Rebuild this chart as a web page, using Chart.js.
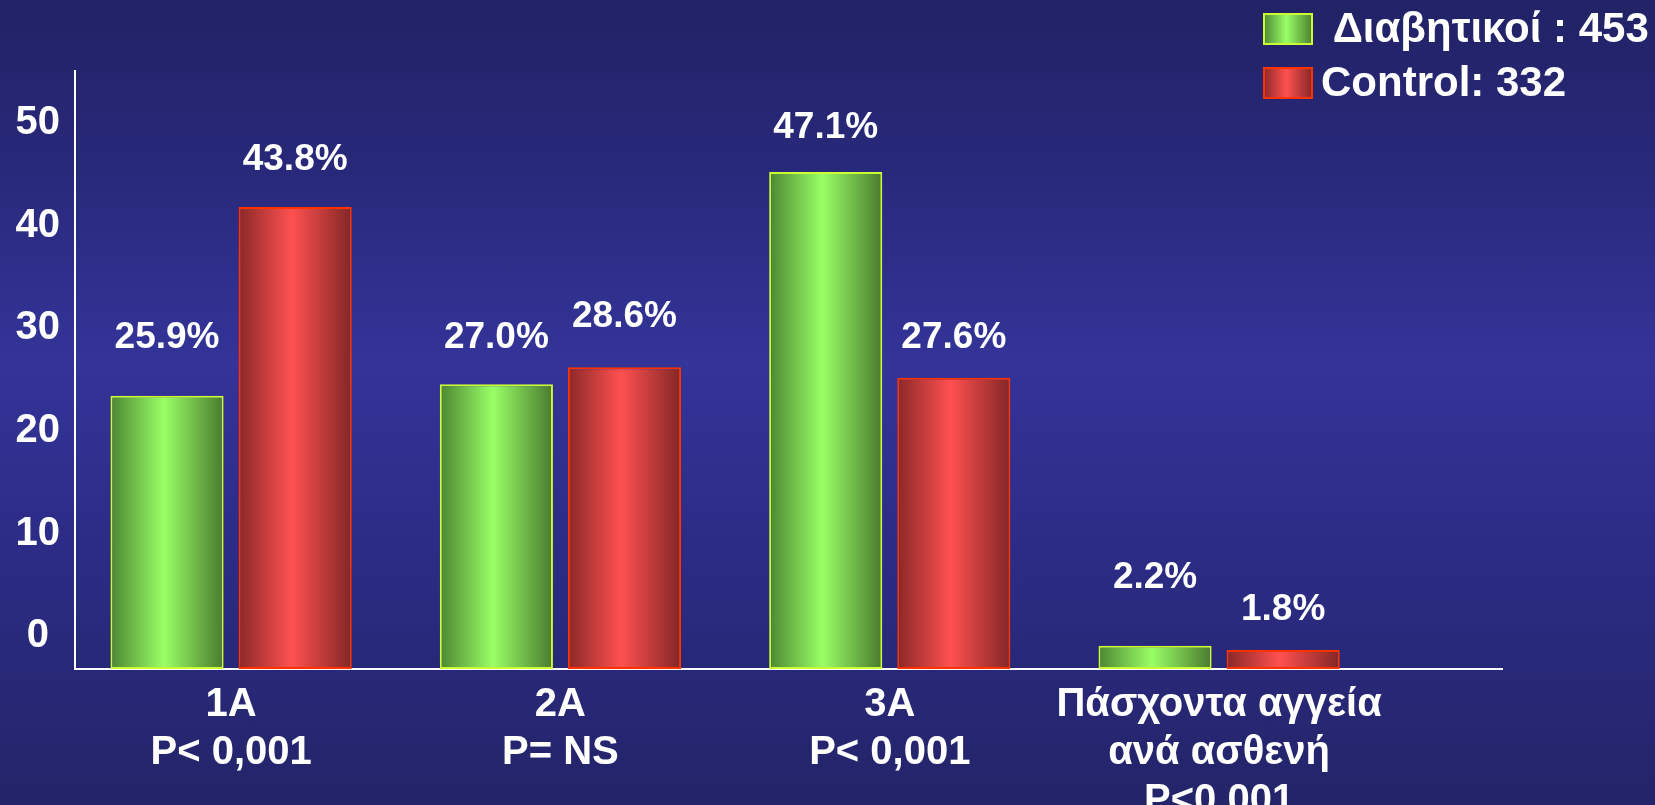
<!DOCTYPE html>
<html lang="el">
<head>
<meta charset="utf-8">
<title>Διαβητικοί / Control</title>
<script src="https://cdn.jsdelivr.net/npm/chart.js@4.4.1/dist/chart.umd.min.js"></script>
<style>
  html, body { margin: 0; padding: 0; }
  body {
    width: 1655px;
    height: 805px;
    overflow: hidden;
    background: linear-gradient(to bottom, #222266 0%, #29297c 22%, #343499 45%, #2c2c86 68%, #242469 100%);
  }
  canvas { display: block; }
</style>
</head>
<body>
<canvas id="graphique" width="1655" height="805"></canvas>
<script>
const CATEGORIES = [
  ['1A', 'P< 0,001'],
  ['2A', 'P= NS'],
  ['3A', 'P< 0,001'],
  ['Πάσχοντα αγγεία', 'ανά ασθενή', 'P<0,001'],
];
const Y_TICKS = [0, 10, 20, 30, 40, 50];

const DIABETIKOI = [25.9, 27.0, 47.1, 2.2];
const CONTROL = [43.8, 28.6, 27.6, 1.8];

const LABEL_DIABETIKOI = ' Διαβητικοί : 453';
const LABEL_CONTROL = 'Control: 332';

// how far each percentage sits above its bar (px)
const LIFT_DIABETIKOI = [58, 46, 44, 68];
const LIFT_CONTROL = [47, 50, 40, 40];

const FONT = 'Arial, "Liberation Sans", Helvetica, sans-serif';
Chart.defaults.font.family = FONT;
Chart.defaults.color = '#ffffff';

function degrade(ctx, x0, x1, teintes) {
  const g = ctx.createLinearGradient(x0, 0, x1, 0);
  g.addColorStop(0, teintes[0]);
  g.addColorStop(0.47, teintes[1]);
  g.addColorStop(1, teintes[2]);
  return g;
}

// cylinder-like shading, recomputed for each bar once its size is known
const ombrageBarres = {
  id: 'ombrageBarres',
  beforeDatasetsDraw(chart) {
    const ctx = chart.ctx;
    chart.data.datasets.forEach((ds, i) => {
      chart.getDatasetMeta(i).data.forEach((bar) => {
        const g = degrade(ctx, bar.x - bar.width / 2, bar.x + bar.width / 2, ds.teintes);
        bar.options = Object.assign({}, bar.options, { backgroundColor: g });
      });
    });
  },
};

const pourcentages = {
  id: 'pourcentages',
  afterDatasetsDraw(chart) {
    const ctx = chart.ctx;
    ctx.save();
    ctx.font = 'bold 37px ' + FONT;
    ctx.fillStyle = '#ffffff';
    ctx.textAlign = 'center';
    ctx.textBaseline = 'middle';
    chart.data.datasets.forEach((ds, i) => {
      chart.getDatasetMeta(i).data.forEach((bar, j) => {
        const v = ds.data[j].y;
        ctx.fillText(v.toFixed(1) + '%', bar.x, bar.y - ds.lift[j]);
      });
    });
    ctx.restore();
  },
};

// legend in the top right corner, overlapping the plot like the slide does
const legende = {
  id: 'legende',
  afterDraw(chart) {
    const ctx = chart.ctx;
    const x = 1263;
    const rows = [29, 83];
    ctx.save();
    ctx.font = 'bold 42px ' + FONT;
    ctx.textBaseline = 'middle';
    ctx.textAlign = 'left';
    chart.data.datasets.forEach((ds, i) => {
      const y = rows[i];
      ctx.fillStyle = degrade(ctx, x, x + 50, ds.teintes);
      ctx.fillRect(x, y - 16, 50, 32);
      ctx.strokeStyle = ds.borderColor;
      ctx.lineWidth = 2;
      ctx.strokeRect(x + 1, y - 15, 48, 30);
      ctx.fillStyle = '#ffffff';
      ctx.fillText(ds.label, x + 58, y + 1);
    });
    ctx.restore();
  },
};

new Chart(document.getElementById('graphique'), {
  type: 'bar',
  data: {
    datasets: [
      {
        label: LABEL_DIABETIKOI,
        data: DIABETIKOI.map((v, i) => ({ x: i + 1, y: v })),
        teintes: ['#4c8632', '#99ff66', '#4a7a2e'],
        borderColor: '#ccff33',
        lift: LIFT_DIABETIKOI,
      },
      {
        label: LABEL_CONTROL,
        data: CONTROL.map((v, i) => ({ x: i + 1, y: v })),
        teintes: ['#8a2828', '#ff5050', '#832626'],
        borderColor: '#ff3300',
        lift: LIFT_CONTROL,
      },
    ],
  },
  options: {
    responsive: false,
    animation: false,
    events: [],
    layout: { padding: { left: 0, right: 153, top: 71, bottom: 0 } },
    datasets: {
      bar: {
        categoryPercentage: 0.778,
        barPercentage: 0.883,
        borderWidth: 2,
        borderSkipped: false,
      },
    },
    plugins: {
      legend: { display: false },
      tooltip: { enabled: false },
    },
    scales: {
      x: {
        type: 'linear',
        offset: false,
        min: 0.526,
        max: 4.859,
        grid: { display: false, drawTicks: false },
        border: { color: '#ffffff', width: 2 },
        afterBuildTicks: (s) => { s.ticks = CATEGORIES.map((_, i) => ({ value: i + 1 })); },
        afterFit: (s) => { s.height = 136; },
        ticks: {
          autoSkip: false,
          maxRotation: 0,
          padding: 12,
          color: '#ffffff',
          font: { size: 40, weight: 'bold', lineHeight: 1.2 },
          callback: (v, i) => CATEGORIES[i],
        },
      },
      y: {
        display: false,
        min: 0,
        max: 56.68,
      },
      // the slide's printed scale sits a little above the bar baseline
      graduations: {
        type: 'linear',
        axis: 'y',
        position: 'left',
        min: -3.2,
        max: 55.05,
        grid: { display: false, drawTicks: false },
        border: { color: '#ffffff', width: 2 },
        afterBuildTicks: (s) => { s.ticks = Y_TICKS.map((v) => ({ value: v })); },
        afterFit: (s) => { s.width = 75; },
        ticks: {
          padding: 15,
          crossAlign: 'center',
          color: '#ffffff',
          font: { size: 40, weight: 'bold' },
        },
      },
    },
  },
  plugins: [ombrageBarres, pourcentages, legende],
});
</script>
</body>
</html>
